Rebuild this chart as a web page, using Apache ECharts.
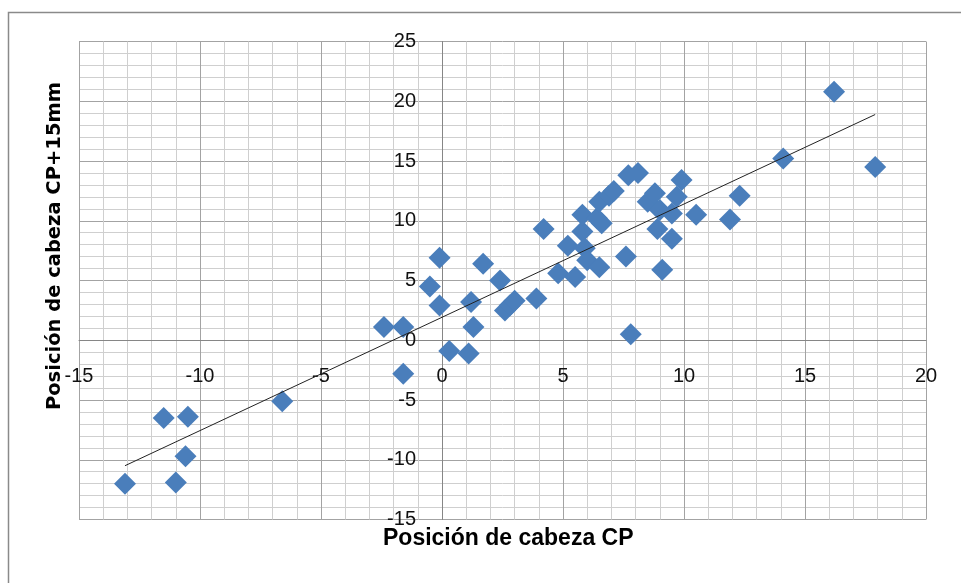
<!DOCTYPE html>
<html>
<head>
<meta charset="utf-8">
<script src="https://cdn.jsdelivr.net/npm/echarts@6/dist/echarts.min.js"></script>
<style>
  html, body { margin: 0; padding: 0; background: #fff; }
  #chart { width: 961px; height: 583px; }
</style>
</head>
<body>
<div id="chart"></div>
<script>
// valores
const xValues = [-13.1, -11.5, -10.5, -10.6, -11.0, -6.6, -2.4, -1.6, -1.6, -0.5,
  -0.1, -0.1, 0.3, 1.1, 1.2, 1.3, 1.7, 2.4, 2.6, 2.8,
  3.0, 3.9, 4.2, 4.8, 5.2, 5.5, 5.8, 5.8, 5.9, 6.0,
  6.5, 6.4, 6.6, 6.5, 6.9, 7.1, 7.7, 8.1, 7.6, 7.8,
  8.5, 8.8, 9.0, 8.9, 9.5, 9.1, 9.5, 9.7, 9.9, 10.5,
  11.9, 12.3, 14.1, 16.2, 17.9];
const yValues = [-12.0, -6.5, -6.4, -9.7, -11.9, -5.1, 1.1, 1.1, -2.8, 4.5,
  6.9, 2.9, -0.9, -1.1, 3.2, 1.1, 6.4, 5.0, 2.5, 2.9,
  3.3, 3.5, 9.3, 5.6, 7.9, 5.3, 9.1, 10.5, 7.7, 6.7,
  6.1, 10.2, 9.8, 11.6, 12.1, 12.5, 13.8, 14.0, 7.0, 0.5,
  11.6, 12.3, 10.9, 9.3, 8.5, 5.9, 10.6, 12.0, 13.4, 10.5,
  10.1, 12.1, 15.2, 20.8, 14.5];

// linea de tendencia (lineal)
const trendSlope = 0.948;
const trendIntercept = 1.92;

const xTitle = 'Posición de cabeza CP';
const yTitle = 'Posición de cabeza CP+15mm';

const points = xValues.map((x, i) => [x, yValues[i]]);
const xMin = Math.min(...xValues);
const xMax = Math.max(...xValues);
const trendData = [xMin, xMax].map(x => [x, trendSlope * x + trendIntercept]);

// area de trazado (px)
const plotLeft = 79, plotRight = 926, plotTop = 41.5, plotBottom = 519.5;
const xRange = [-15, 20];
const yRange = [-15, 25];
// los ejes se cruzan en el cero: se desplazan desde el borde con offset
const xAxisOffset = -(plotBottom - plotTop) * (0 - yRange[0]) / (yRange[1] - yRange[0]);
const yAxisOffset = -(plotRight - plotLeft) * (0 - xRange[0]) / (xRange[1] - xRange[0]);

const chart = echarts.init(document.getElementById('chart'));

const axisCommon = {
  type: 'value',
  interval: 5,
  axisLine: { onZero: false, lineStyle: { color: '#868686', width: 1 } },
  axisTick: { show: false },
  axisLabel: { color: '#111', fontSize: 20, fontFamily: 'Liberation Sans', margin: 26 },
  splitLine: { show: true, lineStyle: { color: '#a3a3a3', width: 1 } },
  minorTick: { show: false, splitNumber: 5 },
  minorSplitLine: { show: true, lineStyle: { color: '#cfcfcf', width: 1 } }
};

const option = {
  animation: false,
  backgroundColor: '#fff',
  grid: { left: plotLeft, right: 961 - plotRight, top: plotTop, bottom: 583 - plotBottom },
  xAxis: Object.assign({}, axisCommon, { min: xRange[0], max: xRange[1], position: 'bottom', offset: xAxisOffset }),
  yAxis: Object.assign({}, axisCommon, { min: yRange[0], max: yRange[1], position: 'left', offset: yAxisOffset }),
  graphic: [
    {
      type: 'rect',
      shape: { x: 8.5, y: 12.5, width: 1000, height: 1000 },
      style: { fill: 'none', stroke: '#8a8a8a', lineWidth: 1.5 },
      silent: true
    },
    {
      type: 'text',
      left: 383, top: 527,
      style: { text: xTitle, fontSize: 23, fontWeight: 'bold', fontFamily: 'Liberation Sans', fill: '#000' }
    },
    {
      type: 'text',
      x: 55, y: 246,
      rotation: Math.PI / 2,
      style: {
        text: yTitle, fontSize: 19.5, fontWeight: 'bold', fontFamily: 'DejaVu Sans', fill: '#000',
        align: 'center', verticalAlign: 'middle'
      }
    }
  ],
  series: [
    {
      type: 'scatter',
      data: points,
      symbol: 'diamond',
      symbolSize: 22,
      itemStyle: { color: '#4a7ebb', opacity: 1 },
      z: 2
    },
    {
      type: 'line',
      data: trendData,
      showSymbol: false,
      symbol: 'none',
      lineStyle: { color: '#222', width: 1 },
      z: 3
    }
  ]
};

chart.setOption(option);
</script>
</body>
</html>
